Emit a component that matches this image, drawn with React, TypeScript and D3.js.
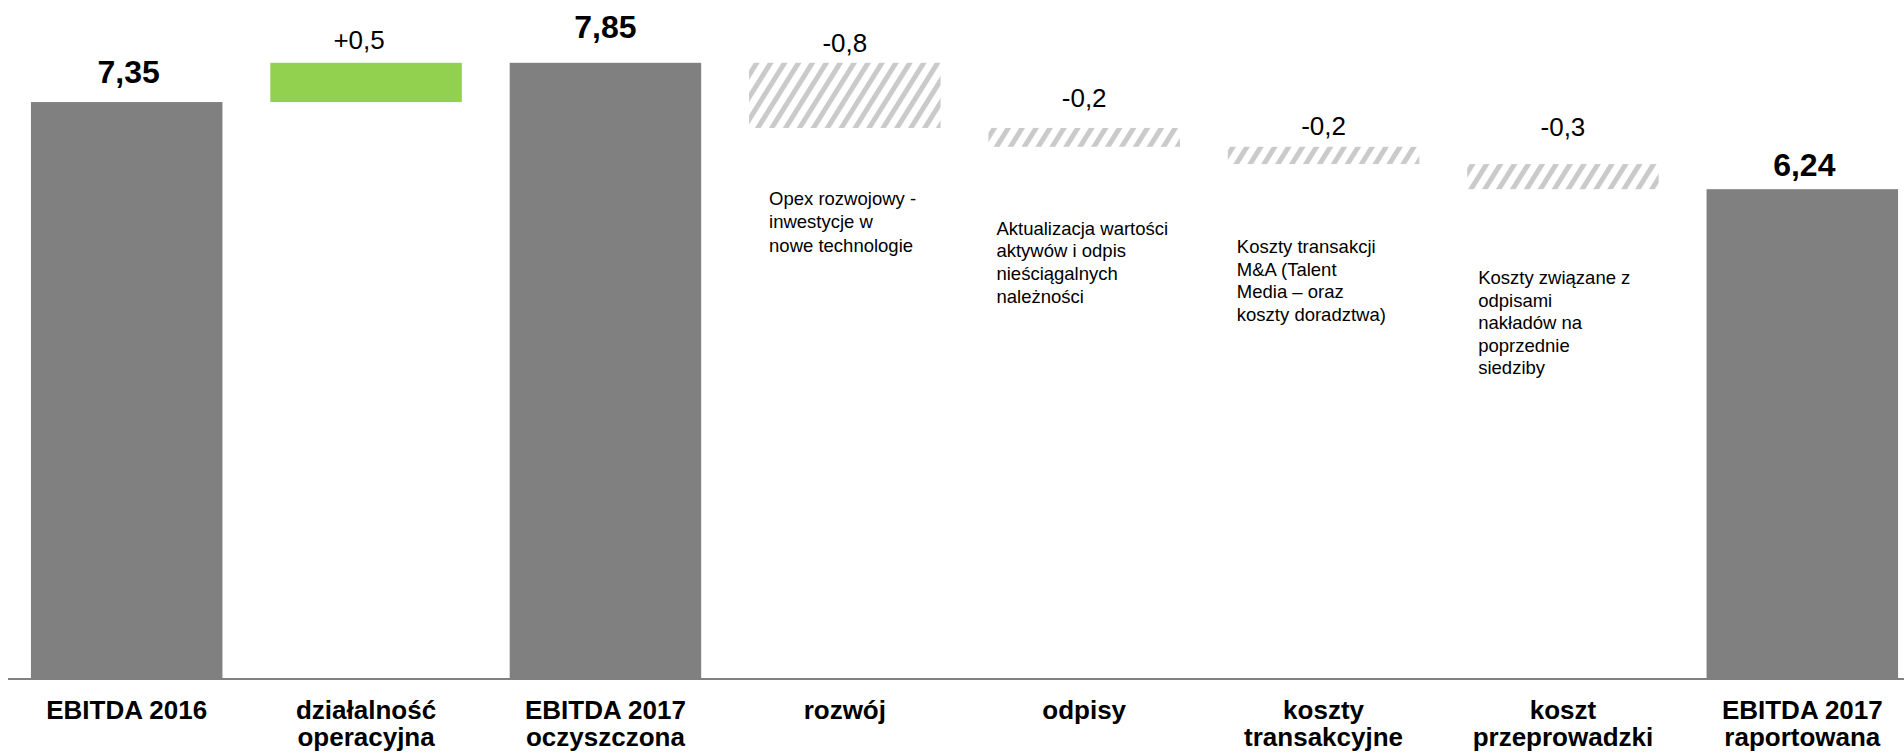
import React from 'react';
import * as d3 from 'd3';

// Bridge of EBITDA 2016 -> EBITDA 2017 (mln zł)
const categories: string[][] = [
  ['EBITDA 2016'],
  ['działalność', 'operacyjna'],
  ['EBITDA 2017', 'oczyszczona'],
  ['rozwój'],
  ['odpisy'],
  ['koszty', 'transakcyjne'],
  ['koszt', 'przeprowadzki'],
  ['EBITDA 2017', 'raportowana'],
];

const kinds = ['total', 'increase', 'total', 'decrease', 'decrease', 'decrease', 'decrease', 'total'];

const values = [7.35, 0.5, 7.85, -0.83, -0.24, -0.22, -0.32, 6.24];

const notes: string[][] = [
  [],
  [],
  [],
  ['Opex rozwojowy -', 'inwestycje w', 'nowe technologie'],
  ['Aktualizacja wartości', 'aktywów i odpis', 'nieściągalnych', 'należności'],
  ['Koszty transakcji', 'M&A (Talent', 'Media – oraz', 'koszty doradztwa)'],
  ['Koszty związane z', 'odpisami', 'nakładów na', 'poprzednie', 'siedziby'],
  [],
];

// Layout tweaks for the value labels and notes
const labelGap = [19, 13.7, 25, 11, 21, 11.4, 27.6, 13];
const labelDx = [2, -7, 0, 0, 0, 0, 0, 2];
const noteDx = [0, 0, 0, 20, 8, 9, 11, 0];
const noteTop = [0, 0, 0, 204.5, 234.5, 253, 284, 0];
const noteLead = [0, 0, 0, 23.5, 22.7, 22.5, 22.5, 0];

const W = 1904;
const H = 756;
const FONT = '"Liberation Sans", Arial, Helvetica, sans-serif';
const GRAY = '#808080';
const GREEN = '#92d050';

const fmtTotal = (v: number) => v.toFixed(2).replace('.', ',');
const fmtDelta = (v: number) => (v > 0 ? '+' : '-') + Math.abs(v).toFixed(1).replace('.', ',');

export default function App() {
  const keys = categories.map((_, i) => String(i));
  const x = d3.scaleBand<string>().domain(keys).range([7, 1922]).paddingInner(0.2).paddingOuter(0.1);
  const y = d3.scaleLinear().domain([0, 8.65]).range([679, 0]);

  let running = 0;
  const segs = values.map((v, i) => {
    let y0: number;
    let y1: number;
    if (kinds[i] === 'total') {
      y0 = 0;
      y1 = v;
      running = v;
    } else {
      y0 = running;
      y1 = running + v;
      running = y1;
    }
    return { i, v, kind: kinds[i], lo: Math.min(y0, y1), hi: Math.max(y0, y1) };
  });

  return (
    <div style={{ position: 'absolute', left: 0, top: 0, width: W, height: H, background: '#fff' }}>
      <svg width={W} height={H} style={{ display: 'block' }} fontFamily={FONT}>
        <defs>
          <pattern id="hatch" patternUnits="userSpaceOnUse" width={11.8} height={11.8} patternTransform="rotate(32)">
            <rect x={0} y={0} width={5} height={11.8} fill="#cacaca" />
          </pattern>
        </defs>

        {segs.map((s) => {
          const fill = s.kind === 'total' ? GRAY : s.kind === 'increase' ? GREEN : 'url(#hatch)';
          return (
            <rect
              key={`bar-${s.i}`}
              x={x(String(s.i))}
              y={y(s.hi)}
              width={x.bandwidth()}
              height={y(s.lo) - y(s.hi)}
              fill={fill}
            />
          );
        })}

        <line x1={8} x2={W} y1={y(0)} y2={y(0)} stroke={GRAY} strokeWidth={2} />

        {segs.map((s) => {
          const cx = (x(String(s.i)) as number) + x.bandwidth() / 2 + labelDx[s.i];
          const isTotal = s.kind === 'total';
          return (
            <text
              key={`val-${s.i}`}
              x={cx}
              y={y(s.hi) - labelGap[s.i]}
              textAnchor="middle"
              fontSize={isTotal ? 32 : 26}
              fontWeight={isTotal ? 'bold' : 'normal'}
              fill="#000"
            >
              {isTotal ? fmtTotal(s.v) : fmtDelta(s.v)}
            </text>
          );
        })}

        {notes.map((lines, i) =>
          lines.length ? (
            <text
              key={`note-${i}`}
              x={(x(String(i)) as number) + noteDx[i]}
              y={noteTop[i]}
              fontSize={18.5}
              fill="#000"
            >
              {lines.map((ln, j) => (
                <tspan key={j} x={(x(String(i)) as number) + noteDx[i]} dy={j === 0 ? 0 : noteLead[i]}>
                  {ln}
                </tspan>
              ))}
            </text>
          ) : null
        )}

        {categories.map((lines, i) => {
          const cx = (x(String(i)) as number) + x.bandwidth() / 2;
          return (
            <text key={`cat-${i}`} x={cx} y={719} textAnchor="middle" fontSize={26} fontWeight="bold" fill="#000">
              {lines.map((ln, j) => (
                <tspan key={j} x={cx} dy={j === 0 ? 0 : 27}>
                  {ln}
                </tspan>
              ))}
            </text>
          );
        })}
      </svg>
    </div>
  );
}
